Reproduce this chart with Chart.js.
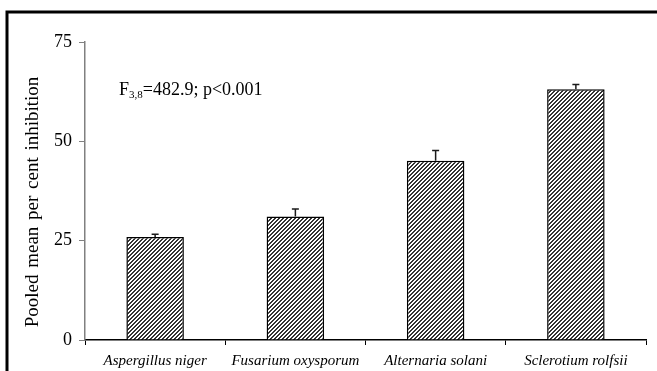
<!DOCTYPE html>
<html>
<head>
<meta charset="utf-8">
<script src="https://cdn.jsdelivr.net/npm/chart.js@4"></script>
<style>
  html, body { margin: 0; padding: 0; background: #fff; }
  canvas { display: block; }
</style>
</head>
<body>
<canvas id="inhibitionChart" width="657" height="371"></canvas>
<script>
// data
const fungi = ["Aspergillus niger", "Fusarium oxysporum", "Alternaria solani", "Sclerotium rolfsii"];
const pooledMean = [25.9, 31.1, 45.1, 63.1];
const stdError = [0.7, 1.9, 2.6, 1.2];
const yTicks = [0, 25, 50, 75];

const serif = "'Times New Roman', 'Liberation Serif', serif";

// fine upward diagonal hatch, like the old Excel fill
function makeHatch() {
    var c = document.createElement("canvas");
    c.width = 4;
    c.height = 4;
    var g = c.getContext("2d");
    g.fillStyle = "#ffffff";
    g.fillRect(0, 0, 4, 4);
    g.fillStyle = "#333333";
    for (var px = 0; px < 4; px++) {
        for (var py = 0; py < 4; py++) {
            var k = (px + py) % 4;
            if (k == 0 || k == 1) g.fillRect(px, py, 1, 1);
        }
    }
    return g.createPattern(c, "repeat");
}

// white page + the black frame round the figure
const framePlugin = {
    id: "frame",
    beforeDraw(chart) {
        var ctx = chart.ctx;
        ctx.save();
        ctx.fillStyle = "#fff";
        ctx.fillRect(0, 0, chart.width, chart.height);
        ctx.strokeStyle = "#000";
        ctx.lineWidth = 3;
        ctx.beginPath();
        ctx.moveTo(7, chart.height + 2);
        ctx.lineTo(7, 12);
        ctx.lineTo(chart.width + 2, 12);
        ctx.stroke();
        ctx.restore();
    }
};

// error bars, F-statistic text and y title
const extrasPlugin = {
    id: "extras",
    afterDatasetsDraw(chart) {
        var ctx = chart.ctx;
        var x = chart.scales.x;
        var y = chart.scales.y;
        ctx.save();
        ctx.strokeStyle = "#1a1a1a";
        ctx.lineWidth = 1.5;
        pooledMean.forEach(function (v, i) {
            var px = x.getPixelForValue(i);
            var top = y.getPixelForValue(v + stdError[i]);
            var base = y.getPixelForValue(v);
            ctx.beginPath();
            ctx.moveTo(px, base);
            ctx.lineTo(px, top);
            ctx.moveTo(px - 3.5, top);
            ctx.lineTo(px + 3.5, top);
            ctx.stroke();
        });

        ctx.fillStyle = "#000";
        ctx.textBaseline = "alphabetic";
        ctx.textAlign = "left";
        var ax = 119, ay = 95;
        ctx.font = "18px " + serif;
        ctx.fillText("F", ax, ay);
        ax += ctx.measureText("F").width;
        ctx.font = "11px " + serif;
        ctx.fillText("3,8", ax, ay + 3);
        ax += ctx.measureText("3,8").width;
        ctx.font = "18px " + serif;
        ctx.fillText("=482.9; p<0.001", ax, ay);

        ctx.translate(33, 202);
        ctx.rotate(-Math.PI / 2);
        ctx.textAlign = "center";
        ctx.textBaseline = "middle";
        ctx.font = "19px " + serif;
        ctx.wordSpacing = "2px";
        ctx.fillText("Pooled mean per cent inhibition", 0, 0);
        ctx.restore();
    }
};

new Chart(document.getElementById("inhibitionChart"), {
    type: "bar",
    data: {
        labels: fungi,
        datasets: [
            {
                data: pooledMean,
                backgroundColor: makeHatch(),
                borderColor: "#000",
                borderWidth: 1.5,
                categoryPercentage: 1,
                barPercentage: 0.41,
            },
        ],
    },
    options: {
        responsive: false,
        animation: false,
        layout: { padding: { top: 42, right: 11, left: 0, bottom: 0 } },
        plugins: { legend: { display: false }, tooltip: { enabled: false } },
        scales: {
            x: {
                offset: true,
                grid: { offset: true, drawOnChartArea: false, drawTicks: true, tickLength: 5, color: "#000" },
                border: { color: "#000", width: 1.5 },
                ticks: { color: "#000", padding: 7, maxRotation: 0, font: { family: serif, size: 15, style: "italic" } },
                afterFit: function (scale) { scale.height = 31; },
            },
            y: {
                min: 0,
                max: 75,
                afterBuildTicks: function (scale) { scale.ticks = yTicks.map(v => ({ value: v })); },
                grid: { drawOnChartArea: false, drawTicks: true, tickLength: 6, color: "#808080" },
                border: { color: "#808080", width: 1.5 },
                ticks: { color: "#000", padding: 7, font: { family: serif, size: 18 } },
                afterFit: function (scale) { scale.width = 85; },
            },
        },
    },
    plugins: [framePlugin, extrasPlugin],
});
</script>
</body>
</html>
